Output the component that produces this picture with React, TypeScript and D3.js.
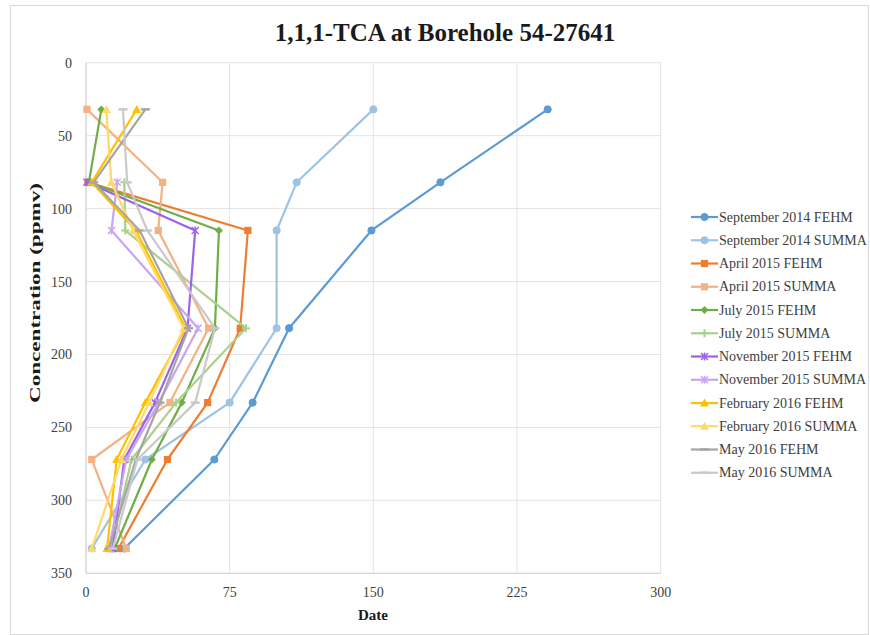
import React from "react";
import * as d3 from "d3";

// Sampling depths (ppmv axis) and per-campaign values
const depths = [32, 82, 115, 182, 233, 272, 333];

const seriesNames = [
  "September 2014 FEHM",
  "September 2014 SUMMA",
  "April 2015 FEHM",
  "April 2015 SUMMA",
  "July 2015 FEHM",
  "July 2015 SUMMA",
  "November 2015 FEHM",
  "November 2015 SUMMA",
  "February 2016 FEHM",
  "February 2016 SUMMA",
  "May 2016 FEHM",
  "May 2016 SUMMA",
];

const sep2014Fehm = [241, 185, 149, 106, 87, 67, 20];
const sep2014Summa = [150, 110, 99.5, 99.5, 75, 31, 3];
const apr2015Fehm = [null, 1, 84.5, 80.5, 63.5, 42.5, 17];
const apr2015Summa = [0.5, 40, 37.7, 64, 43.8, 3, 21];
const jul2015Fehm = [8, 1.5, 69.4, 67.3, 50, 34.4, 15];
const jul2015Summa = [null, 20, 20.5, 83.5, 47, 23.8, 13];
const nov2015Fehm = [null, 0.5, 57, 53, 36, 20, 14];
const nov2015Summa = [null, 16.3, 13.3, 58.5, 38, 21, 12];
const feb2016Fehm = [26.5, 3, 26, 52, 31, 16, 11];
const feb2016Summa = [10.6, 13.2, 24.6, 51, 33, 18.5, 3];
const may2016Fehm = [31, 4, 28, 53.5, 38.6, 26, 12];
const may2016Summa = [19.3, 21.5, 32, 67.3, 57, 26.8, 14];

const seriesValues = [
  sep2014Fehm, sep2014Summa, apr2015Fehm, apr2015Summa,
  jul2015Fehm, jul2015Summa, nov2015Fehm, nov2015Summa,
  feb2016Fehm, feb2016Summa, may2016Fehm, may2016Summa,
];

const seriesColors = [
  "#5B9BD5", "#9DC3E6", "#ED7D31", "#F4B183",
  "#70AD47", "#A9D18E", "#9E62EA", "#C8A4F4",
  "#FFC000", "#FFD966", "#A5A5A5", "#C9C9C9",
];

const seriesMarkers = [
  "circle", "circle", "square", "square",
  "diamond", "plus", "star", "star",
  "triangle", "triangle", "dash", "dash",
];

const xTicks = [0, 75, 150, 225, 300];
const yTicks = [0, 50, 100, 150, 200, 250, 300, 350];

const W = 870;
const H = 635;
const plot = { left: 86, right: 660.7, top: 62.7, bottom: 573.3 };
const FONT = "'Liberation Serif', 'Times New Roman', serif";

function Marker({ type, x, y, color }: { type: string; x: number; y: number; color: string }) {
  switch (type) {
    case "circle":
      return <circle cx={x} cy={y} r={3.6} fill={color} stroke={color} />;
    case "square":
      return <rect x={x - 3.6} y={y - 3.6} width={7.2} height={7.2} fill={color} />;
    case "diamond":
      return <path d={`M${x},${y - 4}L${x + 4},${y}L${x},${y + 4}L${x - 4},${y}Z`} fill={color} />;
    case "plus":
      return (
        <path d={`M${x - 4},${y}H${x + 4}M${x},${y - 4}V${y + 4}`} stroke={color} strokeWidth={2} />
      );
    case "star":
      return (
        <path
          d={`M${x - 3.5},${y - 3.5}L${x + 3.5},${y + 3.5}M${x - 3.5},${y + 3.5}L${x + 3.5},${y - 3.5}M${x},${y - 4}V${y + 4}`}
          stroke={color}
          strokeWidth={1.5}
        />
      );
    case "triangle":
      return <path d={`M${x},${y - 4.5}L${x + 4.5},${y + 3.5}L${x - 4.5},${y + 3.5}Z`} fill={color} />;
    case "dash":
      return <path d={`M${x - 4.5},${y}H${x + 4.5}`} stroke={color} strokeWidth={2.5} />;
    default:
      return null;
  }
}

export default function App() {
  const x = d3.scaleLinear().domain([0, 300]).range([plot.left, plot.right]);
  const y = d3.scaleLinear().domain([0, 350]).range([plot.top, plot.bottom]);

  const line = d3
    .line<[number, number | null]>()
    .defined((d) => d[1] !== null)
    .x((d) => x(d[1] as number))
    .y((d) => y(d[0]));

  const legendX = 691;
  const legendY0 = 217;
  const legendStep = 23.25;

  return (
    <svg width={W} height={H} style={{ position: "absolute", left: 0, top: 0, background: "#fff" }} fontFamily={FONT}>
      <rect x={0} y={0} width={W} height={H} fill="#fff" />
      <rect x={10.5} y={5.5} width={W - 12} height={H - 6} fill="none" stroke="#D9D9D9" strokeWidth={1} />

      <text x={445} y={41} textAnchor="middle" fontSize={25} fontWeight="bold" fill="#1a1a1a">
        1,1,1-TCA at Borehole 54-27641
      </text>

      {/* grid */}
      {xTicks.map((t) => (
        <line key={`gx${t}`} x1={x(t)} x2={x(t)} y1={plot.top} y2={plot.bottom} stroke="#E4E4E4" strokeWidth={1} />
      ))}
      {yTicks.map((t) => (
        <line key={`gy${t}`} x1={plot.left} x2={plot.right} y1={y(t)} y2={y(t)} stroke="#E4E4E4" strokeWidth={1} />
      ))}
      <line x1={plot.left} x2={plot.left} y1={plot.top} y2={plot.bottom} stroke="#D0D0D0" />
      <line x1={plot.left} x2={plot.right} y1={plot.bottom} y2={plot.bottom} stroke="#D0D0D0" />

      {/* tick labels */}
      {xTicks.map((t) => (
        <text key={`tx${t}`} x={x(t)} y={597} textAnchor="middle" fontSize={14} fill="#404040">
          {t}
        </text>
      ))}
      {yTicks.map((t) => (
        <text key={`ty${t}`} x={72} y={y(t) + 5} textAnchor="end" fontSize={14} fill="#404040">
          {t}
        </text>
      ))}

      <text x={373} y={620} textAnchor="middle" fontSize={15} fontWeight="bold" fill="#1a1a1a">
        Date
      </text>
      <text
        transform={`translate(40, 293) rotate(-90)`}
        textAnchor="middle"
        fontSize={15}
        fontWeight="bold"
        fill="#1a1a1a"
        textLength={220}
        lengthAdjust="spacingAndGlyphs"
      >
        Concentration (ppmv)
      </text>

      {/* series */}
      {seriesValues.map((vals, i) => {
        const pts: [number, number | null][] = depths.map((dp, j) => [dp, vals[j]]);
        return (
          <g key={seriesNames[i]}>
            <path d={line(pts) || ""} fill="none" stroke={seriesColors[i]} strokeWidth={2.2} strokeLinejoin="round" />
            {pts
              .filter((p) => p[1] !== null)
              .map((p, j) => (
                <Marker key={j} type={seriesMarkers[i]} x={x(p[1] as number)} y={y(p[0])} color={seriesColors[i]} />
              ))}
          </g>
        );
      })}

      {/* legend */}
      {seriesNames.map((name, i) => {
        const ly = legendY0 + i * legendStep;
        return (
          <g key={`lg${name}`}>
            <line x1={legendX} x2={legendX + 27} y1={ly} y2={ly} stroke={seriesColors[i]} strokeWidth={2.2} />
            <Marker type={seriesMarkers[i]} x={legendX + 13.5} y={ly} color={seriesColors[i]} />
            <text x={legendX + 28} y={ly + 4.5} fontSize={14} fill="#404040">
              {name}
            </text>
          </g>
        );
      })}
    </svg>
  );
}
